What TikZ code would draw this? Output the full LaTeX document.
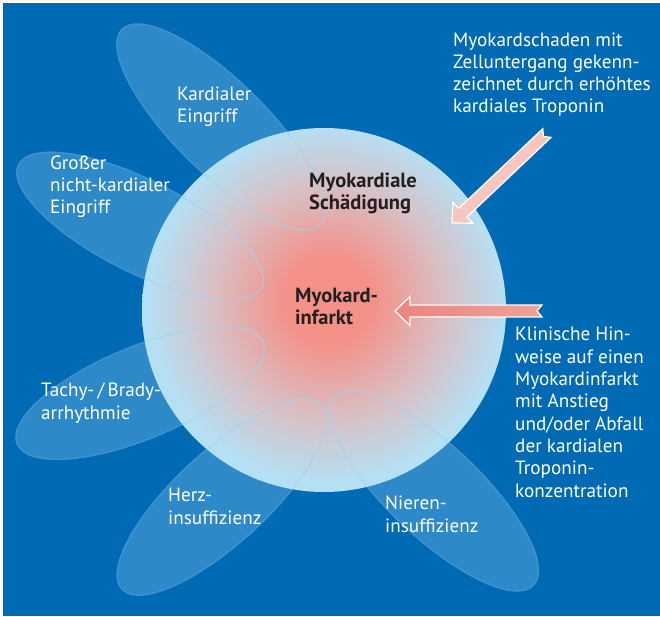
\documentclass[tikz,border=0pt]{standalone}
\usepackage{fontspec}
\setmainfont{PT Sans}
\usetikzlibrary{positioning,calc}

\definecolor{bgblue}{RGB}{0,106,180}
\definecolor{petalblue}{RGB}{46,137,200}
\definecolor{petalrim}{RGB}{62,146,205}
\definecolor{rimlight}{RGB}{160,212,238}
\definecolor{edgeblue}{RGB}{181,224,244}
\definecolor{midpink}{RGB}{216,192,197}
\definecolor{corered}{RGB}{244,145,137}
\definecolor{arrowpink}{RGB}{247,198,190}
\definecolor{arrowred}{RGB}{233,133,127}
\definecolor{arrowredlight}{RGB}{242,160,152}
\definecolor{darktext}{RGB}{35,31,32}

\pgfdeclareradialshading{damage}{\pgfpoint{0.8bp}{1.6bp}}{color(0bp)=(corered); color(6bp)=(corered); color(16bp)=(midpink); color(24.5bp)=(edgeblue); color(50bp)=(edgeblue)}

\tikzset{
  petal/.style={fill=petalblue, draw=petalrim, line width=1.5pt},
  petalline/.style={draw=rimlight, opacity=0.6, line width=1.4pt},
  outer/.style={text=white, font=\fontsize{19.2}{22.3}\selectfont, align=left, inner sep=0pt, anchor=base west},
  inner/.style={text=darktext, font=\bfseries\fontsize{20.5}{22.3}\selectfont, align=left, inner sep=0pt, anchor=base west},
  fatarrow/.style={draw=white, line width=1.2pt, line join=miter}
}

% tail, tip, fill options
\newcommand{\fatarrow}[3]{%
  \filldraw[fatarrow, #3] ($(#1)!6pt!90:(#2)$) -- ($(#2)!15pt!(#1)!6pt!-90:(#1)$)
    -- ($(#2)!15pt!(#1)!14.5pt!-90:(#1)$) -- (#2)
    -- ($(#2)!15pt!(#1)!14.5pt!90:(#1)$) -- ($(#2)!15pt!(#1)!6pt!90:(#1)$)
    -- ($(#1)!6pt!-90:(#2)$) -- ($(#1)!5pt!(#2)$) -- cycle;
}

\begin{document}
\begin{tikzpicture}[x=1pt, y=1pt]
    \fill[white] (0,0) rectangle (660,616);
    \useasboundingbox (0,0) rectangle (660,616);
    \fill[bgblue] (3,0) rectangle (660,613);

    % x / y / angle / half length
    \def\petals{221/489/-44.6/139, 140/390/-26.8/136, 140/223/22.5/133, 222/119/42.6/136, 434/125/-43.4/137}
    \foreach \px/\py/\ang/\len in \petals {
        \draw[petal, rotate around={\ang:(\px,\py)}] (\px,\py) ellipse [x radius=\len pt, y radius=46pt];
    }

    \node[circle, minimum size=364pt, inner sep=0pt, shading=damage] (damage) at (324,306) {};
    \begin{scope}
        \clip (damage.center) circle (182pt);
        \foreach \px/\py/\ang/\len in \petals {
            \draw[petalline, rotate around={\ang:(\px,\py)}] (\px,\py) ellipse [x radius=\len pt, y radius=46pt];
        }
    \end{scope}

    % base = last line
    \node[outer] (kardial) at (177,493) {Kardialer\\Eingriff};
    \node[outer] (grosser) at (50,402) {Großer\\nicht-kardialer\\Eingriff};
    \node[outer] (tachy) at (41,197) {Tachy-\,/\,Brady-\\arrhythmie};
    \node[outer] (herz) at (168,92) {Herz-\\insuffizienz};
    \node[outer] (niere) at (385,84) {Nieren-\\insuffizienz};

    \node[inner] (schaden) at (309,406) {Myokardiale\\Schädigung};
    \node[inner] (infarkt) at (295,291) {Myokard-\\infarkt};

    \node[outer] (zelltod) at (453,503) {Myokardschaden mit\\Zelluntergang gekenn-\\zeichnet durch erhöhtes\\kardiales Troponin};
    \node[outer] (klinik) at (515,119) {Klinische Hin-\\weise auf einen\\Myokardinfarkt\\mit Anstieg\\und/oder Abfall\\der kardialen\\Troponin-\\konzentration};

    \coordinate (zelltod tail) at (547,483);
    \coordinate (schaden tip) at (452,393);
    \coordinate (klinik tail) at (542,305);
    \coordinate (infarkt tip) at (395,305);

    \fatarrow{zelltod tail}{schaden tip}{fill=arrowpink}
    \fatarrow{klinik tail}{infarkt tip}{left color=arrowred, right color=arrowredlight}
\end{tikzpicture}
\end{document}
